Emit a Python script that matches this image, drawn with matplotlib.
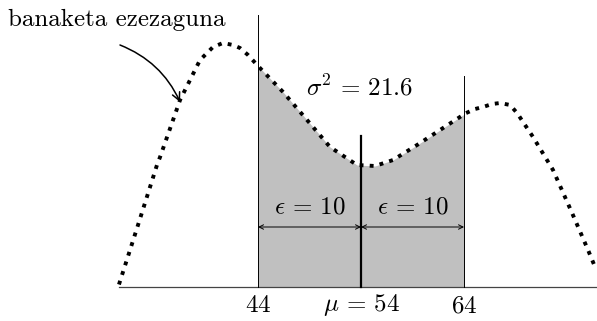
import matplotlib
matplotlib.use("Agg")
import matplotlib.pyplot as plt
import numpy as np

plt.rcParams['mathtext.fontset'] = 'cm'

# curve (x in data units, y in density units)
curve_x = [30.5, 32.35, 34.19, 34.49, 36.43, 38.37, 39.05, 39.63, 40.6, 41.57, 42.25, 43.03, 44.0,
           46.43, 48.76, 50.99, 53.61, 55.36, 57.11, 59.44, 61.67, 63.9, 64.0,
           65.07, 65.84, 66.72, 67.5, 68.47, 69.15, 69.73, 70.7, 72.64, 74.49, 76.04, 76.72]
curve_y = [0.0005, 0.0124, 0.0244, 0.026, 0.0374, 0.0454, 0.0468, 0.048, 0.0488, 0.0484, 0.0478, 0.0464, 0.0442,
           0.039, 0.0334, 0.028, 0.0244, 0.0242, 0.0254, 0.0284, 0.0314, 0.0344, 0.0346,
           0.0356, 0.036, 0.0366, 0.0368, 0.0364, 0.0348, 0.033, 0.030, 0.0234, 0.0148, 0.0074, 0.004]

mu = 54
eps = 10
variance = 21.6
lo, hi = mu - eps, mu + eps
line_tops = [0.0544, 0.0302, 0.0422]   # heights of vertical lines at lo, mu, hi
tick_labels = [r'$44$', r'$\mu \,=\, 54$', r'$64$']
dist_label = 'banaketa ezezaguna'

fig = plt.figure(figsize=(5.97, 3.21), dpi=100)
ax = fig.add_axes([0, 0, 1, 1])
ax.set_xlim(18.95, 76.91)
ax.set_ylim(-0.0068, 0.0574)
ax.axis('off')

cx = np.array(curve_x)
cy = np.array(curve_y)
mask = (cx >= lo) & (cx <= hi)
ax.fill_between(cx[mask], 0, cy[mask], color='#c0c0c0', lw=0, zorder=1)

ax.plot(cx, cy, color='black', lw=2.8, linestyle=(0, (1, 1.6)), dash_capstyle='butt', zorder=3)

# x axis
ax.plot([cx[0], 78], [0, 0], color='#444444', lw=0.9, zorder=2)

# vertical lines
ax.plot([lo, lo], [0, line_tops[0]], color='black', lw=0.7, zorder=2)
ax.plot([mu, mu], [0, line_tops[1]], color='black', lw=1.6, zorder=4)
ax.plot([hi, hi], [0, line_tops[2]], color='black', lw=0.7, zorder=2)

# epsilon arrows
arr_y = 0.012
for a, b in [(lo, mu), (mu, hi)]:
    ax.annotate('', xy=(a, arr_y), xytext=(b, arr_y),
                arrowprops=dict(arrowstyle='<->', lw=0.7, color='black',
                                shrinkA=0, shrinkB=0, mutation_scale=8), zorder=5)
    ax.text((a + b) / 2, 0.016, r'$\epsilon \,=\, %d$' % eps, ha='center', va='center', fontsize=18)

ax.text(53.9, 0.0398, r'$\sigma^2 \,=\, %.1f$' % variance, ha='center', va='center', fontsize=18)

for x, lab in zip([lo, mu, hi], tick_labels):
    ax.text(x, -0.0037, lab, ha='center', va='center', fontsize=18)

ax.text(19.73, 0.0534, dist_label, ha='left', va='center', fontsize=18, family='cmr10')
ax.annotate('', xy=(36.43, 0.037), xytext=(30.6, 0.0484),
            arrowprops=dict(arrowstyle='->', lw=1.1, color='black', shrinkA=0, shrinkB=0,
                            connectionstyle='arc3,rad=-0.2', mutation_scale=14))

fig.savefig('out.png', dpi=100)
